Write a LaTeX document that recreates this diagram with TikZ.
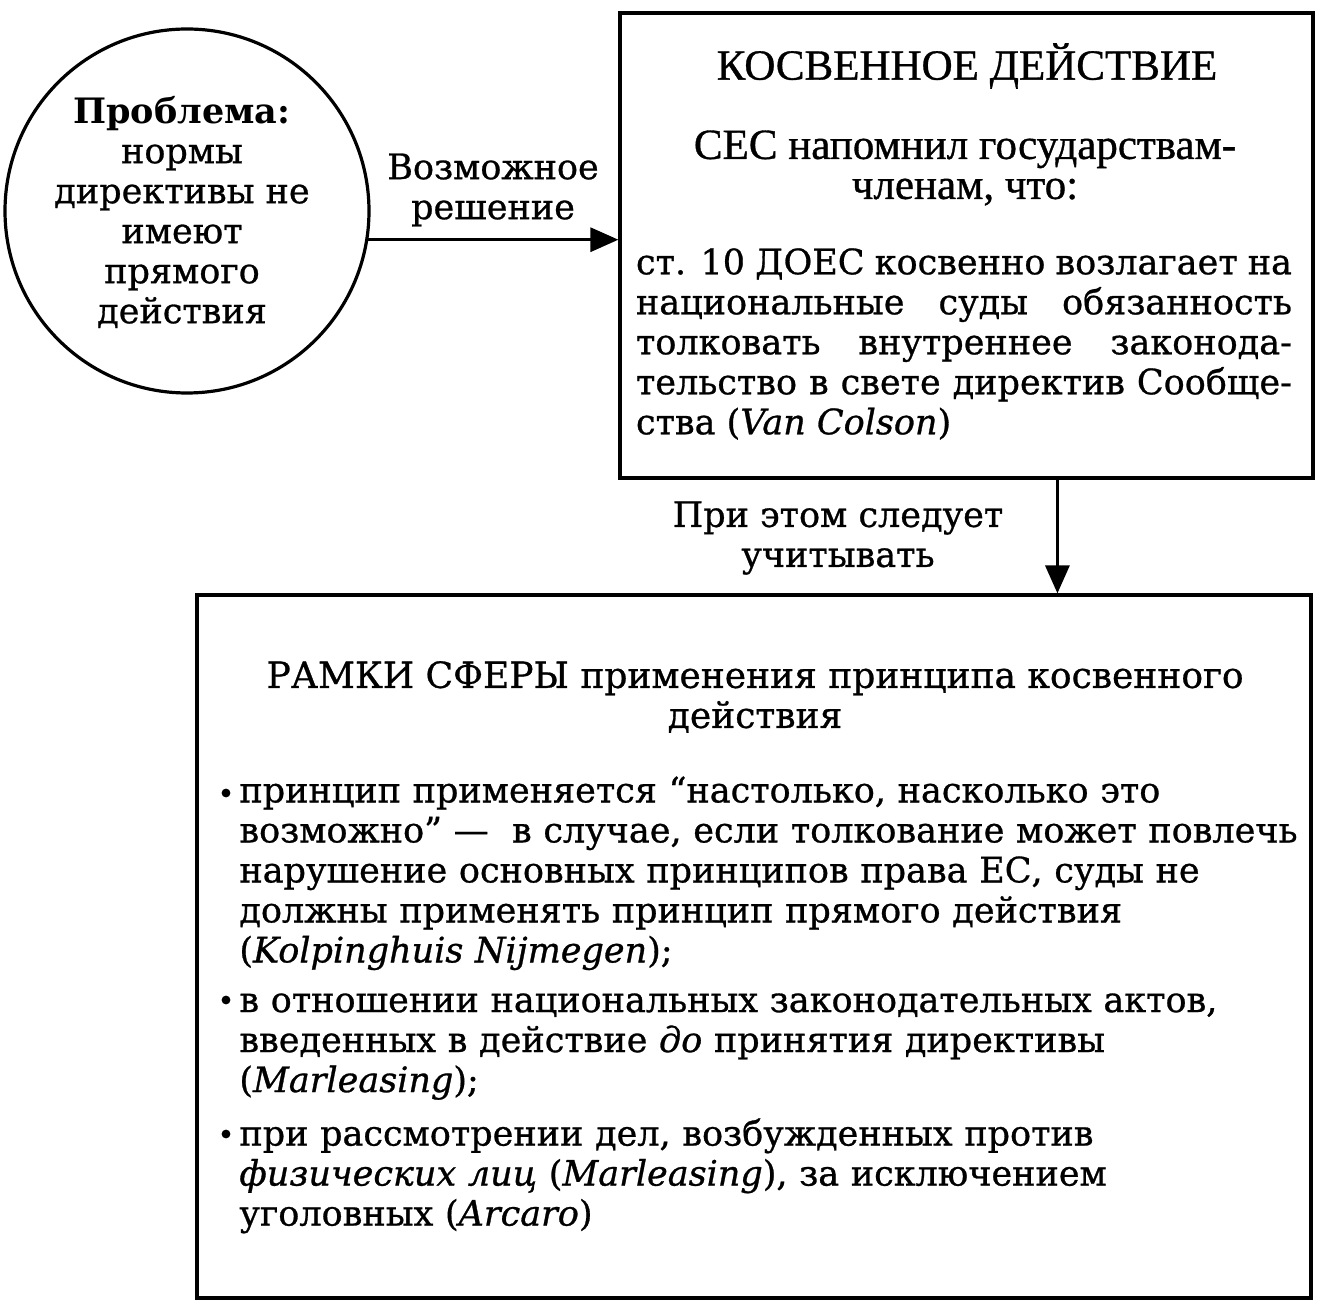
\documentclass[tikz,border=0pt]{standalone}
\usepackage{fontspec}
\setmainfont{DejaVu Serif}[UprightFeatures={FakeBold=0.8},ItalicFeatures={FakeBold=0.8}]
\newfontfamily\timesf{Liberation Serif}[FakeBold=0.8]
\usetikzlibrary{arrows.meta}
\begin{document}
\begin{tikzpicture}[x=0.5pt,y=-0.5pt,
  frame/.style={draw, line width=1.6pt, inner sep=0pt},
  arr/.style={line width=1.6pt, -{Triangle[length=14pt,width=12pt]}},
  txt/.style={inner sep=0pt, font=\fontsize{17.5}{20}\selectfont, align=center},
  ttl/.style={inner sep=0pt, font=\timesf\fontsize{21.5}{20}\selectfont, align=center},
  bltxt/.style={inner sep=0pt, anchor=north west, text width=540pt, align=left, font=\fontsize{17.5}{20}\selectfont},
  dot/.style={circle, fill, inner sep=0pt, minimum size=4.4pt}]
\useasboundingbox (0,0) rectangle (1324,1304);
% circle
\node (circ) [frame, circle, minimum size=182pt] at (187,211) {};
\node (circtxt) [txt] at (182,212) {\textbf{Проблема:}\\нормы\\директивы не\\имеют\\прямого\\действия};
% top box
\node (tb) [frame, minimum width=346.5pt, minimum height=232.5pt] at (966.5,245.5) {};
\node (tbttl) [ttl] at (967,66) {КОСВЕННОЕ ДЕЙСТВИЕ};
\node (tbsub) [ttl] at (965,168) {СЕС напомнил государствам-\\членам, что:};
\node (tbpar) [txt, text width=328pt, align=justify] at (964,344) {ст. 10 ДОЕС косвенно возлагает на\linebreak национальные суды обязанность\linebreak толковать внутреннее законода-\linebreak тельство в свете директив Сообще-\linebreak ства (\textit{Van Colson})};
% arrow circle -> box
\draw[arr] (circ.-9) -- (tb.west |- circ.-9);
\node (lab1) [txt] at (493,190) {Возможное\\решение};
% bottom box
\node (bb) [frame, minimum width=557pt, minimum height=351.5pt] at (754,946.5) {};
\path (tb.south west) -- (tb.south east) coordinate[pos=0.6306] (s1);
\draw[arr] (s1) -- (s1 |- bb.north);
\node (lab2) [txt] at (838,538) {При этом следует\\учитывать};
\node (bbttl) [txt, font=\fontsize{18}{20}\selectfont] at (755,697) {РАМКИ СФЕРЫ применения принципа косвенного\\действия};
\node (b1) [bltxt] at (239,776) {принцип применяется “настолько, насколько это\\возможно” —\ \ в случае, если толкование может повлечь\\нарушение основных принципов права ЕС, суды не\\должны применять принцип прямого действия\\(\textit{Kolpinghuis Nijmegen});};
\node (b2) [bltxt] at (239,993) {в отношении национальных законодательных актов,\\введенных в действие \textit{до} принятия директивы\\(\textit{Marleasing});};
\node (b3) [bltxt] at (239,1118) {при рассмотрении дел, возбужденных против\\\textit{физических лиц} (\textit{Marleasing}), за исключением\\уголовных (\textit{Arcaro})};
\node (d1) [dot] at (226,793) {};
\node (d2) [dot] at (226,1000) {};
\node (d3) [dot] at (226,1134) {};
\end{tikzpicture}
\end{document}
